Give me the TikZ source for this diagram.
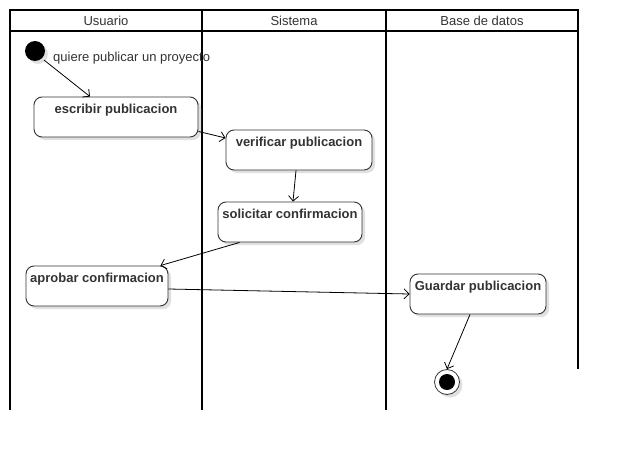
\documentclass[tikz,border=0pt]{standalone}
\usepackage{fontspec}
\setmainfont{Liberation Sans}
\usetikzlibrary{arrows.meta,shadows}
\definecolor{txt}{HTML}{333333}
\tikzset{
  lane/.style={line width=2pt, black},
  hdr/.style={font=\fontsize{13}{15}\selectfont, text=txt, inner sep=0pt},
  act/.style={draw=txt, line width=0.9pt, rounded corners=8pt, fill=white,
    drop shadow={shadow xshift=3pt, shadow yshift=-3pt, fill=black!12, opacity=1},
    inner sep=0pt},
  acttext/.style={font=\bfseries\fontsize{13}{15}\selectfont, text=txt, anchor=north, yshift=-7pt, inner sep=0pt},
  flow/.style={-{Straight Barb[length=5pt,width=10pt]}, line width=0.8pt, black},
}
\begin{document}
\begin{tikzpicture}[x=1pt,y=-1pt]
\useasboundingbox (0,0) rectangle (618,450);
% swimlanes
\draw[lane] (10,10) rectangle (578,31);
\draw[lane] (10,31) -- (10,410);
\draw[lane] (202,10) -- (202,410);
\draw[lane] (386,10) -- (386,410);
\draw[lane] (578,31) -- (578,369);
\node[hdr] (h1) at (106,20.5) {Usuario};
\node[hdr] (h2) at (294,20.5) {Sistema};
\node[hdr] (h3) at (482,20.5) {Base de datos};
% start
\node[circle, fill=black, minimum size=20pt, inner sep=0pt,
  drop shadow={shadow xshift=3pt, shadow yshift=-3pt, fill=black!12, opacity=1}] (start) at (35,51) {};
\node[font=\fontsize{13}{15}\selectfont, text=txt, anchor=west, inner sep=0pt] (startlbl) at (53,58) {quiere publicar un proyecto};
% activities
\node[act, minimum width=164pt, minimum height=40pt] (esc) at (116,117)
  {}; \node[acttext] (esct) at (esc.north) {escribir publicacion};
\node[act, minimum width=146pt, minimum height=40pt] (ver) at (299,150)
  {}; \node[acttext] (vert) at (ver.north) {verificar publicacion};
\node[act, minimum width=144pt, minimum height=40pt] (sol) at (290,222)
  {}; \node[acttext] (solt) at (sol.north) {solicitar confirmacion};
\node[act, minimum width=142pt, minimum height=40pt] (apr) at (97,286)
  {}; \node[acttext] (aprt) at (apr.north) {aprobar confirmacion};
\node[act, minimum width=136pt, minimum height=40pt] (gua) at (478,294)
  {}; \node[acttext] (guat) at (gua.north) {Guardar publicacion};
% end
\node[circle, draw=txt, line width=0.8pt, fill=white, minimum size=25pt, inner sep=0pt,
  drop shadow={shadow xshift=3pt, shadow yshift=-3pt, fill=black!12, opacity=1}] (end) at (447,382) {};
\node[circle, fill=black, minimum size=16pt, inner sep=0pt] (endin) at (end.center) {};
% flows
\draw[flow] ([xshift=2pt,yshift=-2pt]start.south east) -- ([xshift=-26pt]esc.north);
\draw[flow] ([yshift=6pt]esc.south east) -- ([yshift=12pt]ver.west);
\draw[flow] ([xshift=-3pt]ver.south) -- ([xshift=3pt]sol.north);
\draw[flow] ([xshift=22pt]sol.south west) -- ([xshift=-8pt]apr.north east);
\draw[flow] ([yshift=-3pt]apr.east) -- (gua.west);
\draw[flow] ([xshift=-8pt]gua.south) -- (end.north);
\end{tikzpicture}
\end{document}
